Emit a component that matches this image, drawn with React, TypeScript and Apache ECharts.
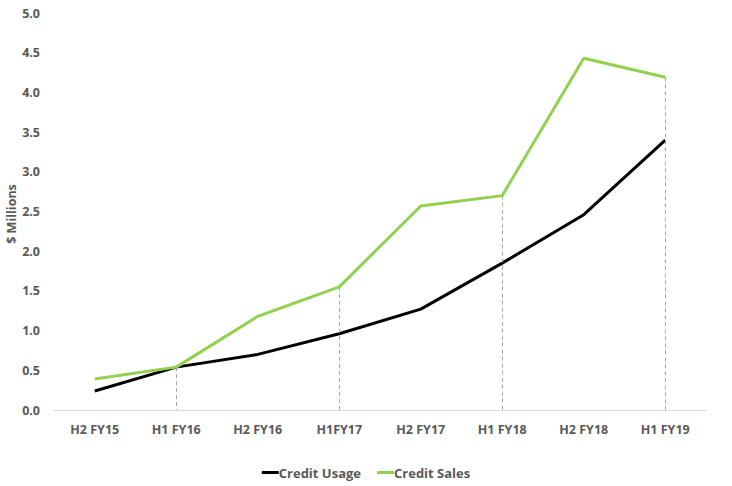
import React, { useEffect, useRef } from "react";
import * as echarts from "echarts";

const categories = ["H2 FY15", "H1 FY16", "H2 FY16", "H1FY17", "H2 FY17", "H1 FY18", "H2 FY18", "H1 FY19"];
const creditUsage = [0.24, 0.54, 0.7, 0.96, 1.27, 1.85, 2.46, 3.4];
const creditSales = [0.39, 0.54, 1.18, 1.55, 2.57, 2.7, 4.43, 4.19];
const dropLineIndices = [1, 3, 5, 7];
const yAxisTitle = "$ Millions";

export default function App() {
  const ref = useRef<HTMLDivElement>(null);
  useEffect(() => {
    if (!ref.current) return;
    const chart = echarts.init(ref.current, null, { renderer: "svg" });
    const font = "Open Sans";
    const gray = "#595959";
    chart.setOption({
      animation: false,
      backgroundColor: "#ffffff",
      grid: { left: 54, right: 26, top: 13, bottom: 76, outerBoundsMode: "none", containLabel: false },
      graphic: [
        {
          type: "text",
          x: 11,
          y: 214,
          rotation: Math.PI / 2,
          style: {
            text: yAxisTitle,
            fill: gray,
            font: `bold 12.5px "${font}"`,
            align: "center",
            verticalAlign: "middle",
          },
        },
      ],
      legend: {
        bottom: 2,
        left: "center",
        itemWidth: 17,
        itemHeight: 3,
        itemGap: 16,
        icon: "rect",
        textStyle: { fontFamily: font, fontSize: 13, color: gray, fontWeight: "bold", padding: [0, 0, 0, -5] },
        data: ["Credit Usage", "Credit Sales"],
      },
      xAxis: {
        type: "category",
        data: categories,
        boundaryGap: true,
        axisLine: { show: true, lineStyle: { color: "#d9d9d9", width: 1 } },
        axisTick: { show: false },
        axisLabel: { fontFamily: font, fontSize: 12.5, color: gray, fontWeight: "bold", margin: 13, interval: 0 },
        splitLine: { show: false },
      },
      yAxis: {
        type: "value",
        min: 0,
        max: 5,
        interval: 0.5,
        axisLine: { show: false },
        axisTick: { show: false },
        splitLine: { show: false },
        axisLabel: {
          fontFamily: font,
          fontSize: 12.5,
          color: gray,
          fontWeight: "bold",
          margin: 14,
          formatter: (v: number) => v.toFixed(1),
        },
      },
      series: [
        {
          name: "Credit Usage",
          type: "line",
          data: creditUsage,
          symbol: "none",
          lineStyle: { color: "#000000", width: 3 },
          itemStyle: { color: "#000000" },
          z: 3,
        },
        {
          name: "Credit Sales",
          type: "line",
          data: creditSales,
          symbol: "none",
          lineStyle: { color: "#92D050", width: 3 },
          itemStyle: { color: "#92D050" },
          z: 4,
          markLine: {
            silent: true,
            symbol: "none",
            label: { show: false },
            lineStyle: { color: "#a6a6a6", width: 1, type: [4, 3] },
            data: dropLineIndices.map((i) => [
              { coord: [i, creditSales[i]] },
              { coord: [i, 0] },
            ]),
          },
        },
      ],
    });
    return () => chart.dispose();
  }, []);
  return (
    <div
      ref={ref}
      style={{ position: "absolute", left: 0, top: 0, width: 732, height: 486 }}
    />
  );
}
